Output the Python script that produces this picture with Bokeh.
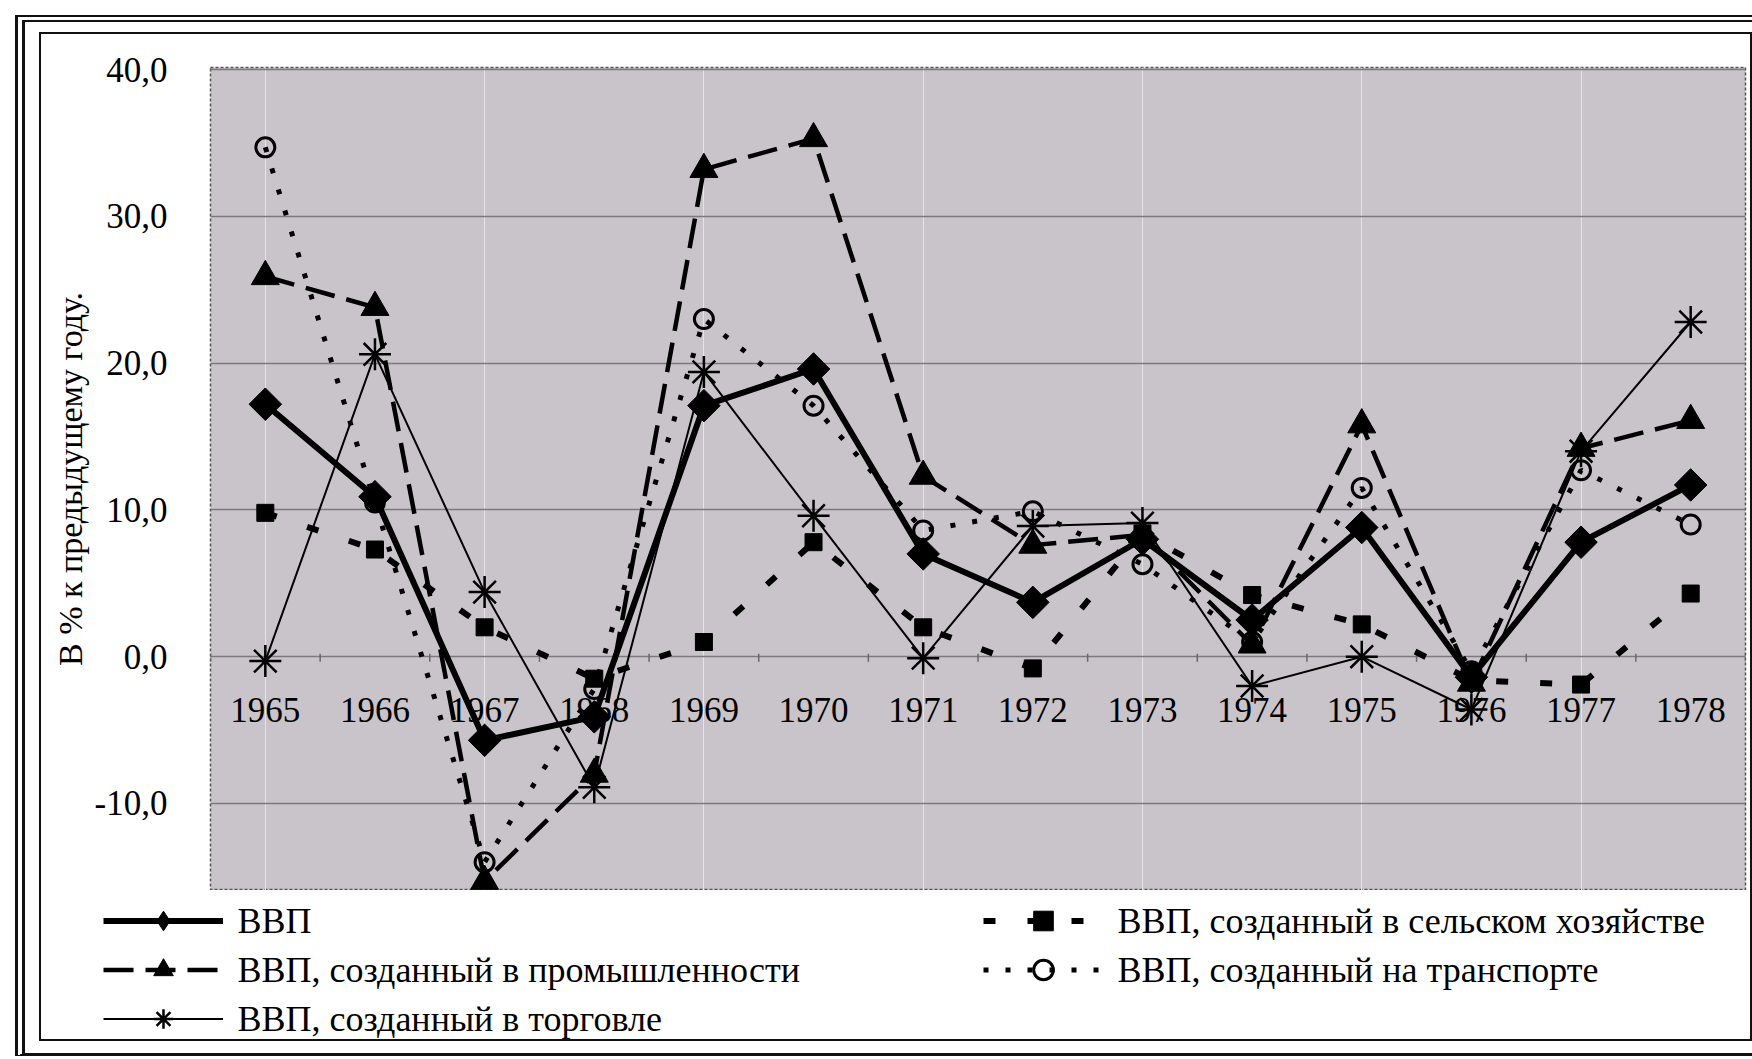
import math
from bokeh.plotting import figure
from bokeh.layouts import column
from bokeh.models import (Range1d, FixedTicker, Legend, LegendItem, InlineStyleSheet, Title)
from bokeh.core.properties import value
from bokeh.embed import file_html
from bokeh.resources import INLINE

# ---------------- data ----------------
years = [1965, 1966, 1967, 1968, 1969, 1970, 1971, 1972, 1973, 1974, 1975, 1976, 1977, 1978]
year_labels = [str(y) for y in years]

gdp       = [17.2, 10.9, -5.7, -4.1, 17.1, 19.6, 7.0, 3.7, 8.0, 2.5, 8.8, -1.4, 7.8, 11.7]
agri      = [9.8, 7.3, 2.0, -1.5, 1.0, 7.8, 2.0, -0.8, 8.4, 4.2, 2.2, -1.6, -1.9, 4.3]
industry  = [25.9, 23.8, -15.3, -8.0, 33.2, 35.3, 12.3, 7.6, 8.3, 0.8, 15.8, -1.8, 14.2, 16.1]
transport = [34.7, 10.5, -14.0, -2.2, 23.0, 17.1, 8.6, 9.9, 6.3, 1.0, 11.5, -1.0, 12.7, 9.0]
trade     = [-0.3, 20.6, 4.4, -8.9, 19.4, 9.6, -0.1, 8.9, 9.1, -2.0, 0.0, -3.6, 14.0, 22.8]

y_ticks = [-10, 0, 10, 20, 30, 40]
y_tick_labels = ["-10,0", "0,0", "10,0", "20,0", "30,0", "40,0"]

name_gdp = "ВВП"
name_agri = "ВВП, созданный в сельском хозяйстве"
name_industry = "ВВП, созданный в промышленности"
name_transport = "ВВП, созданный на транспорте"
name_trade = "ВВП, созданный в торговле"
axis_title = "В % к предыдущему году."

# ---------------- styles ----------------
FONT = "Liberation Serif"
BG = "#c9c4ca"
STY = {
    "gdp":       dict(line=dict(line_color="black", line_width=6),
                      mark=dict(marker="square", angle=math.pi / 4, size=23,
                                fill_color="black", line_color="black")),
    "agri":      dict(line=dict(line_color="black", line_width=6, line_dash="12 32"),
                      mark=dict(marker="square", size=17, fill_color="black", line_color="black")),
    "industry":  dict(line=dict(line_color="black", line_width=4.5, line_dash="30 12"),
                      mark=dict(marker="triangle", size=28, fill_color="black", line_color="black")),
    "transport": dict(line=dict(line_color="black", line_width=5, line_dash="5 17"),
                      mark=dict(marker="circle", size=19, fill_color=None,
                                line_color="black", line_width=3)),
    "trade":     dict(line=dict(line_color="black", line_width=2),
                      mark=dict(marker="asterisk", size=32, line_color="black", line_width=2.5)),
}
# legend proxies: markers are drawn un-rotated in a legend, so use a true diamond there
LEG_MARK = dict(STY["gdp"]["mark"], marker="diamond", angle=0)

x = list(range(len(years)))
series = [("gdp", gdp), ("agri", agri), ("industry", industry),
          ("transport", transport), ("trade", trade)]

# ---------------- chart figure ----------------
p = figure(width=1752, height=890,
           x_range=Range1d(-0.5, len(years) - 0.5),
           y_range=Range1d(-15.93, 40.14),
           x_axis_location=None,
           output_backend="svg", toolbar_location=None,
           min_border_left=210, min_border_right=7,
           min_border_top=67, min_border_bottom=0)

p.background_fill_color = BG
p.border_fill_color = "white"
p.outline_line_color = "#555555"
p.outline_line_dash = "3 2"
p.outline_line_width = 1.5

yax = p.yaxis[0]
yax.ticker = FixedTicker(ticks=y_ticks)
yax.major_label_overrides = {t: l for t, l in zip(y_ticks, y_tick_labels)}
yax.major_label_text_font = FONT
yax.major_label_text_font_size = "35px"
yax.major_label_text_color = "black"
yax.major_label_standoff = 37
yax.major_tick_line_color = None
yax.minor_tick_line_color = None
yax.axis_line_color = None

p.add_layout(Title(text=axis_title, align="center", standoff=6,
                   text_font=FONT, text_font_size="34px", text_font_style="normal",
                   text_color="black"), "left")

p.ygrid.ticker = FixedTicker(ticks=y_ticks)
p.ygrid.grid_line_color = "#7d787f"
p.ygrid.grid_line_width = 1.3

# category labels sitting just under the zero line
p.text(x=x, y=[0] * len(x), text=year_labels, text_font=value(FONT),
       text_font_size="35px", text_align="center", text_baseline="middle",
       y_offset=53, text_color="black")

# small category-boundary ticks on the zero line
bounds = [i - 0.5 for i in range(len(years) + 1)]
p.segment(x0=bounds, y0=[0.2] * len(bounds), x1=bounds, y1=[-0.35] * len(bounds),
          line_color="#6a666c", line_width=1.5)

for key, vals in series:
    p.line(x, vals, **STY[key]["line"])
    p.scatter(x, vals, **STY[key]["mark"])

# ---------------- legend strip (own figure so nothing is clipped) ----------------
# the series are repeated here only as legend proxies; the ranges keep them off-view
STRIP_W, STRIP_H = 1752, 169
q = figure(width=STRIP_W, height=STRIP_H, x_range=Range1d(100, 101), y_range=Range1d(100, 101),
           x_axis_location=None, y_axis_location=None,
           output_backend="svg", toolbar_location=None, min_border=0)
q.outline_line_color = None
q.background_fill_color = "white"
q.border_fill_color = "white"
q.grid.visible = False
# pixel-like ranges for the legend label texts (y measured from the top)
q.extra_x_ranges = {"px": Range1d(0, STRIP_W)}
q.extra_y_ranges = {"px": Range1d(STRIP_H, 0)}

for fig in (p, q):
    if "frame_align" in fig.properties():
        fig.frame_align = False

leg_renderers = {}
for key, vals in series:
    lr = q.line(x, vals, **STY[key]["line"])
    mr = q.scatter(x, vals, **(LEG_MARK if key == "gdp" else STY[key]["mark"]))
    leg_renderers[key] = [lr, mr]

# legend layout: column-major, 3 rows x 2 columns (glyph samples from the Legend,
# the serif label texts drawn as text next to them)
leg_order = [("gdp", name_gdp), ("industry", name_industry), ("trade", name_trade),
             ("agri", name_agri), ("transport", name_transport)]
LEG_X0, LEG_COL_PITCH, LEG_ROW_PITCH, LEG_BOTTOM = 103, 880, 49, 16
GLYPH_W, STANDOFF = 120, 14

legend = Legend(
    items=[LegendItem(label=value(""), renderers=leg_renderers[k]) for k, _ in leg_order],
    location=(LEG_X0, LEG_BOTTOM), orientation="vertical", nrows=3,
    glyph_width=GLYPH_W, glyph_height=LEG_ROW_PITCH, label_standoff=STANDOFF,
    label_width=LEG_COL_PITCH - GLYPH_W - STANDOFF,
    spacing=0, padding=0, margin=0,
    border_line_alpha=0, background_fill_alpha=0,
    label_text_font_size="36px",
)
q.add_layout(legend)

row_top = STRIP_H - LEG_BOTTOM - 3 * LEG_ROW_PITCH
lx, ly, lt = [], [], []
for i, (k, name) in enumerate(leg_order):
    col, row = divmod(i, 3)
    lx.append(LEG_X0 + col * LEG_COL_PITCH + GLYPH_W + STANDOFF)
    ly.append(row_top + LEG_ROW_PITCH * row + LEG_ROW_PITCH / 2)
    lt.append(name)
q.text(x=lx, y=ly, text=lt, x_range_name="px", y_range_name="px",
       text_font=value(FONT), text_font_size="36px", text_color="black",
       text_baseline="middle", text_align="left")

# ---------------- chart frames (double outer, single inner) ----------------
frame_css = """
:host::before {
  content: ""; position: absolute; box-sizing: border-box;
  left: 39px; top: 32px; width: 1713px; height: 1009px;
  border: 2.5px solid #111; pointer-events: none; z-index: 50;
}
:host::after {
  content: ""; position: absolute; box-sizing: border-box;
  left: 15px; top: 15px; width: 1737px; height: 1041px;
  border-left: 10px double #111; border-top: 7px double #111;
  border-bottom: 3px solid #111; border-right: none;
  pointer-events: none; z-index: 50;
}
"""
page = column(p, q, spacing=0, stylesheets=[InlineStyleSheet(css=frame_css)])

open("out.html", "w").write(file_html(page, INLINE))
